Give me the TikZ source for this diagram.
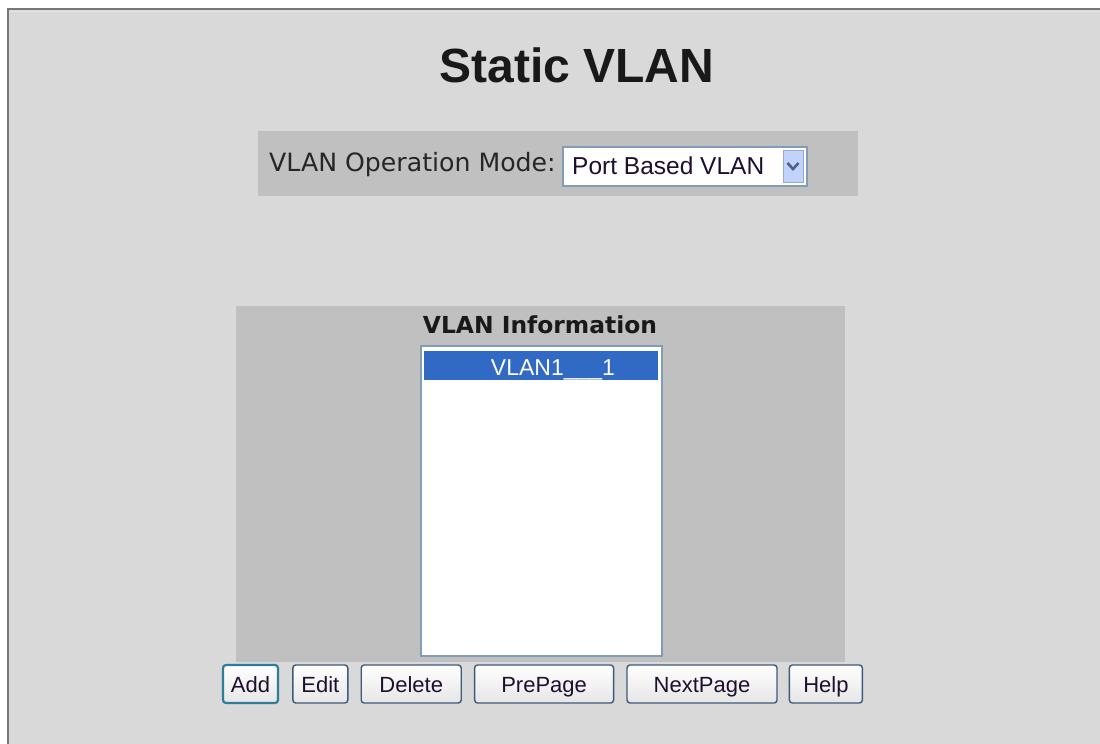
\documentclass[tikz,border=0pt]{standalone}
\usepackage{fontspec}
\setmainfont{Liberation Sans}
\newfontfamily\verdanafont{DejaVu Sans}
\usetikzlibrary{positioning}
\definecolor{pagegray}{HTML}{D9D9D9}
\definecolor{framegray}{HTML}{777777}
\definecolor{panelgray}{HTML}{C0C0C0}
\definecolor{boxblue}{HTML}{7F9DB9}
\definecolor{selblue}{HTML}{316AC5}
\definecolor{btnblue}{HTML}{3C5A7E}
\definecolor{arrowfill}{HTML}{C1D3FB}
\definecolor{chevron}{HTML}{4D6185}
\definecolor{btntext}{HTML}{1E0F2E}
\tikzstyle{panel}=[rectangle,fill=panelgray,inner sep=0pt]
\tikzstyle{field}=[rectangle,fill=white,draw=boxblue,line width=1.2pt,inner sep=0pt]
\tikzstyle{button}=[rectangle,rounded corners=3pt,draw=btnblue,line width=1.4pt,
top color=white,bottom color=black!10,minimum height=38pt,inner sep=0pt,
text=btntext,font=\fontsize{22}{22}\selectfont,text height=16pt,text depth=0pt]

\begin{document}
\begin{tikzpicture}[x=1pt,y=-1pt]
            \useasboundingbox (0,0) rectangle (1100,744);
            \fill[white] (0,0) rectangle (1100,744);

            % page frame
            \fill[pagegray] (8,9) rectangle (1100,744);
            \draw[white!90!black,line width=1pt] (10,11.5) -- (1100,11.5);
            \draw[framegray,line width=2.5pt] (8,744) -- (8,9) -- (1100,9);

            \node[font=\bfseries\fontsize{48}{48}\selectfont,anchor=base,text=black!90] (title) at (577,82) {Static VLAN};

            % mode bar
            \node[panel,minimum width=600pt,minimum height=65pt] (modebar) at (558,163.5) {};
            \node[anchor=base west,inner sep=0pt,font=\verdanafont\fontsize{25.2}{25}\selectfont,text=black!85] (modelabel) at (269,171) {VLAN Operation Mode:};
            \node[field,minimum width=244pt,minimum height=39pt] (mode) at (685,166.5) {};
            \node[anchor=base west,inner sep=0pt,font=\fontsize{24.5}{24}\selectfont,text=btntext] (modetext) at (572,174) {Port Based VLAN};
            \node[rectangle,fill=arrowfill,draw=arrowfill!80!black,line width=0.8pt,minimum width=20pt,minimum height=32pt,inner sep=0pt] (modearrow) at (793,166) {};
            \draw[chevron,line width=2.6pt] ([xshift=-5.5pt,yshift=3pt]modearrow.center) -- ([yshift=-3pt]modearrow.center) -- ([xshift=5.5pt,yshift=3pt]modearrow.center);

            % vlan information
            \node[panel,minimum width=609pt,minimum height=356pt] (infopanel) at (540.5,484) {};
            \node[anchor=base,inner sep=0pt,font=\verdanafont\bfseries\fontsize{23.4}{23}\selectfont,text=black!90] (infotitle) at (540,333) {VLAN Information};
            \node[field,minimum width=241pt,minimum height=310pt] (vlanlist) at (541.5,501) {};
            \node[rectangle,fill=selblue,minimum width=234pt,minimum height=29pt,inner sep=0pt] (vlanrow) at (541,365) {};
            \node[anchor=base,inner sep=0pt,font=\fontsize{23}{23}\selectfont,text=white] (vlanname) at (553,375) {VLAN1\_\_\_1};

            % buttons
            \node[button,minimum width=55pt,line width=2.2pt,draw=btnblue!80!cyan] (add) at (250.5,684) {Add};
            \node[button,minimum width=55pt,right=13pt of add] (edit) {Edit};
            \node[button,minimum width=100pt,right=12pt of edit] (delete) {Delete};
            \node[button,minimum width=139pt,right=12pt of delete] (prepage) {PrePage};
            \node[button,minimum width=150pt,right=12pt of prepage] (nextpage) {NextPage};
            \node[button,minimum width=73pt,right=11pt of nextpage] (help) {Help};

\end{tikzpicture}
\end{document}
